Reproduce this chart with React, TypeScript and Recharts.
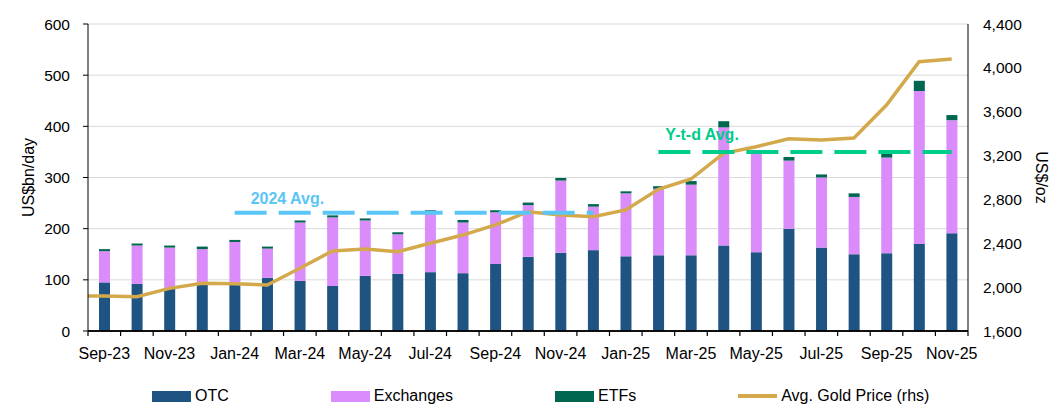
import {
  Bar,
  CartesianGrid,
  ComposedChart,
  Line,
  ReferenceLine,
  XAxis,
  YAxis,
} from "recharts";

const months = [
  "Sep-23", "Oct-23", "Nov-23", "Dec-23",
  "Jan-24", "Feb-24", "Mar-24", "Apr-24", "May-24", "Jun-24",
  "Jul-24", "Aug-24", "Sep-24", "Oct-24", "Nov-24", "Dec-24",
  "Jan-25", "Feb-25", "Mar-25", "Apr-25", "May-25", "Jun-25",
  "Jul-25", "Aug-25", "Sep-25", "Oct-25", "Nov-25",
];

// US$bn/day
const otc = [
  95, 92, 83, 90,
  90, 104, 98, 88, 108, 112, 115, 113, 131, 145, 153, 158,
  146, 148, 148, 167, 154, 200, 163, 150, 152, 170, 191,
];
const exchanges = [
  61, 75, 80, 70,
  84, 57, 114, 134, 108, 77, 118, 99, 101, 101, 141, 85,
  123, 130, 138, 231, 193, 133, 137, 112, 187, 299, 221,
];
const etfs = [
  4, 4, 4, 5,
  4, 4, 4, 4, 4, 4, 3, 5, 4, 5, 5, 5,
  4, 5, 7, 12, 3, 7, 6, 7, 7, 20, 10,
];

// US$/oz, first value is Aug-23 (left of the plot, gets clipped)
const goldPrice = [
  1918,
  1919, 1913, 1989, 2035,
  2032, 2020, 2172, 2330, 2348, 2323, 2400, 2475, 2567, 2688, 2658, 2643,
  2704, 2892, 2986, 3221, 3281, 3354, 3342, 3360, 3661, 4056, 4081,
];

const avg2024 = 231;
const avgYtd = 350;

const leftTicks = [0, 100, 200, 300, 400, 500, 600];
const rightTicks = [1600, 2000, 2400, 2800, 3200, 3600, 4000, 4400];

const COLORS = {
  otc: "#1F5482",
  exchanges: "#DA8CFA",
  etfs: "#00664F",
  gold: "#D4A94C",
  avg2024: "#5BC6F6",
  ytd: "#00CC8C",
};

const FONT = '"Liberation Sans", Arial, sans-serif';

const data = months.map((month, i) => ({
  month,
  otc: otc[i],
  exchanges: exchanges[i],
  etfs: etfs[i],
}));

const goldData = goldPrice.map((gold, i) => ({ idx: i - 1, gold }));

// index axis: half-steps are the category boundaries (tick marks), whole steps are month centres (labels)
const idxTicks: number[] = [];
for (let i = 0; i <= months.length * 2; i++) idxTicks.push(i / 2 - 0.5);

function MonthTick({ x, y, payload }: any) {
  const v = payload.value as number;
  if (!Number.isInteger(v)) {
    return <line x1={x} x2={x} y1={y} y2={y + 5} stroke="#000" strokeWidth={1.2} />;
  }
  if (v % 2 !== 0) return <g />;
  return (
    <text
      x={x}
      y={y + 17}
      dy="0.71em"
      textAnchor="middle"
      fontSize={16}
      fontFamily={FONT}
      fill="#000"
    >
      {months[v]}
    </text>
  );
}

function AxisTitle({ viewBox, value, side }: any) {
  const cx = side === "left" ? viewBox.x + 28 : viewBox.x + 73;
  const cy = viewBox.y + viewBox.height / 2;
  return (
    <text
      x={cx}
      y={cy}
      transform={`rotate(${side === "left" ? -90 : 90} ${cx} ${cy})`}
      textAnchor="middle"
      dominantBaseline="central"
      fontSize={16}
      fontFamily={FONT}
      fill="#000"
    >
      {value}
    </text>
  );
}

function AvgLabel({ viewBox, text, color, dx, dy }: any) {
  return (
    <text
      x={viewBox.x + dx}
      y={viewBox.y + dy}
      fontSize={16}
      fontWeight="bold"
      fontFamily={FONT}
      fill={color}
    >
      {text}
    </text>
  );
}

const legendItems = [
  { name: "OTC", color: COLORS.otc, line: false },
  { name: "Exchanges", color: COLORS.exchanges, line: false },
  { name: "ETFs", color: COLORS.etfs, line: false },
  { name: "Avg. Gold Price (rhs)", color: COLORS.gold, line: true },
];

function Legend() {
  return (
    <div
      style={{
        position: "absolute",
        left: 152,
        top: 387,
        display: "flex",
        alignItems: "center",
        gap: 102,
        fontFamily: FONT,
        fontSize: 16,
        color: "#000",
      }}
    >
      {legendItems.map((it) => (
        <span key={it.name} style={{ display: "inline-flex", alignItems: "center", gap: 4 }}>
          <span
            style={{
              display: "inline-block",
              width: 39,
              height: it.line ? 4 : 11,
              backgroundColor: it.color,
            }}
          />
          {it.name}
        </span>
      ))}
    </div>
  );
}

export default function App() {
  const tickStyle = { fontSize: 15.5, fill: "#000", fontFamily: FONT };
  return (
    <div
      style={{
        position: "absolute",
        left: 0,
        top: 0,
        width: 1064,
        height: 412,
        background: "#fff",
        overflow: "hidden",
      }}
    >
      <ComposedChart
        width={1064}
        height={412}
        data={data}
        margin={{ top: 24, right: 0, bottom: 51, left: 0 }}
      >
        <CartesianGrid
          yAxisId="left"
          xAxisId="month"
          vertical={false}
          horizontalValues={leftTicks.slice(1)}
          stroke="#D9D9D9"
          strokeWidth={1}
        />
        <XAxis xAxisId="month" dataKey="month" hide />
        <XAxis
          xAxisId="idx"
          type="number"
          dataKey="idx"
          domain={[-0.5, months.length - 0.5]}
          allowDataOverflow
          ticks={idxTicks}
          interval={0}
          height={30}
          tickSize={0}
          tickMargin={0}
          tickLine={false}
          tick={<MonthTick />}
          axisLine={{ stroke: "#000", strokeWidth: 1.5 }}
        />
        <YAxis
          yAxisId="left"
          width={88}
          domain={[0, 600]}
          ticks={leftTicks}
          tickSize={5}
          tickMargin={13}
          tickLine={{ stroke: "#000" }}
          axisLine={{ stroke: "#000" }}
          tick={tickStyle}
          label={<AxisTitle value="US$bn/day" side="left" />}
        />
        <YAxis
          yAxisId="right"
          orientation="right"
          width={96}
          domain={[1600, 4400]}
          ticks={rightTicks}
          tickLine={false}
          tickSize={6}
          tickMargin={9}
          axisLine={{ stroke: "#000" }}
          tick={tickStyle}
          tickFormatter={(v) => Number(v).toLocaleString("en-US")}
          label={<AxisTitle value="US$/oz" side="right" />}
        />
        <Bar xAxisId="month" yAxisId="left" dataKey="otc" name="OTC" stackId="a" fill={COLORS.otc} barSize={11} isAnimationActive={false} />
        <Bar xAxisId="month" yAxisId="left" dataKey="exchanges" name="Exchanges" stackId="a" fill={COLORS.exchanges} barSize={11} isAnimationActive={false} />
        <Bar xAxisId="month" yAxisId="left" dataKey="etfs" name="ETFs" stackId="a" fill={COLORS.etfs} barSize={11} isAnimationActive={false} />
        {/* category axis baseline */}
        <ReferenceLine
          xAxisId="month"
          yAxisId="left"
          y={0}
          ifOverflow="visible"
          stroke="#000"
          strokeWidth={1.5}
        />
        <Line
          xAxisId="idx"
          yAxisId="right"
          data={goldData}
          dataKey="gold"
          name="Avg. Gold Price (rhs)"
          stroke={COLORS.gold}
          strokeWidth={3.5}
          dot={false}
          activeDot={false}
          isAnimationActive={false}
        />
        <ReferenceLine
          xAxisId="month"
          yAxisId="left"
          segment={[
            { x: "Jan-24", y: avg2024 },
            { x: "Dec-24", y: avg2024 },
          ]}
          stroke={COLORS.avg2024}
          strokeWidth={4}
          strokeDasharray="32 12"
          label={<AvgLabel text="2024 Avg." color={COLORS.avg2024} dx={16} dy={-9} />}
        />
        <ReferenceLine
          xAxisId="month"
          yAxisId="left"
          segment={[
            { x: "Feb-25", y: avgYtd },
            { x: "Nov-25", y: avgYtd },
          ]}
          stroke={COLORS.ytd}
          strokeWidth={4}
          strokeDasharray="32 12"
          label={<AvgLabel text="Y-t-d Avg." color={COLORS.ytd} dx={7} dy={-12} />}
        />
      </ComposedChart>
      <Legend />
    </div>
  );
}
